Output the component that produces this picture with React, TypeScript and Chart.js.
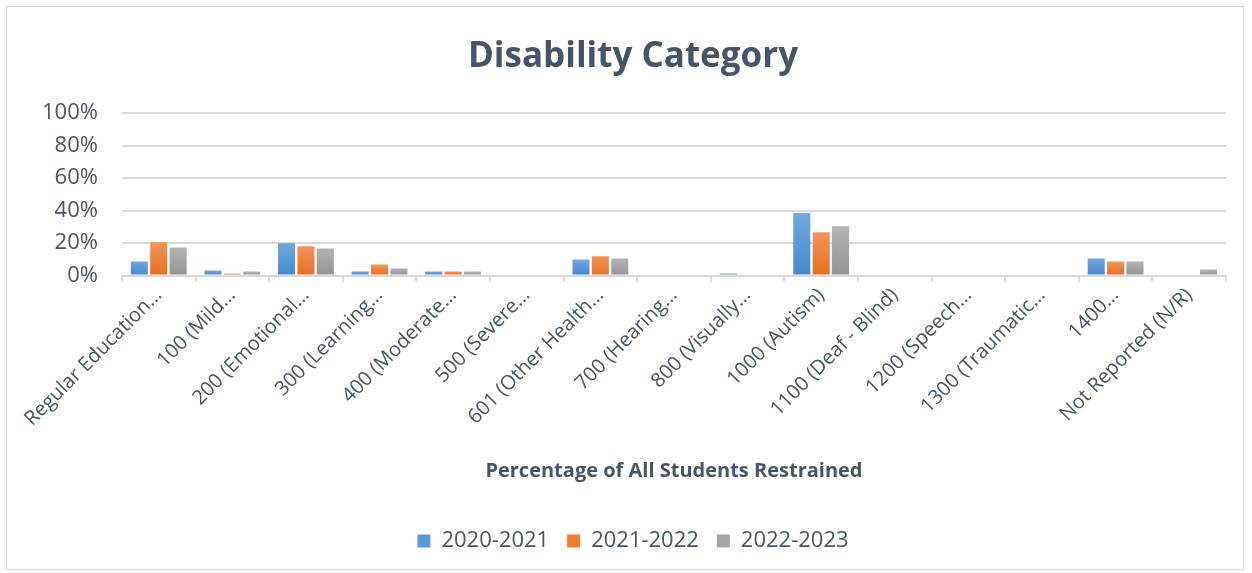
import React, { useEffect, useRef } from "react";
import { Chart, registerables } from "chart.js";

Chart.register(...registerables);

const categories = [
  "Regular Education…",
  "100 (Mild…",
  "200 (Emotional…",
  "300 (Learning…",
  "400 (Moderate…",
  "500 (Severe…",
  "601 (Other Health…",
  "700 (Hearing…",
  "800 (Visually…",
  "1000 (Autism)",
  "1100 (Deaf - Blind)",
  "1200 (Speech…",
  "1300 (Traumatic…",
  "1400…",
  "Not Reported (N/R)",
];

const seriesNames = ["2020-2021", "2021-2022", "2022-2023"];
const values2020 = [0.087, 0.031, 0.198, 0.025, 0.025, 0, 0.099, 0, 0.012, 0.384, 0, 0.006, 0, 0.105, 0];
const values2021 = [0.204, 0.012, 0.18, 0.068, 0.025, 0, 0.118, 0, 0, 0.266, 0, 0, 0, 0.087, 0];
const values2022 = [0.173, 0.025, 0.167, 0.043, 0.025, 0, 0.105, 0, 0, 0.303, 0, 0, 0, 0.087, 0.037];

const gradStops = [
  ["#6fa8de", "#4788cc"],
  ["#f2955c", "#e86e1c"],
  ["#b3b3b3", "#949494"],
];
const solidColors = ["#5b9bd5", "#ed7d31", "#a5a5a5"];
const textColor = "#44546a";
const FONT = "'Open Sans', 'Noto Sans', sans-serif";

export default function App() {
  const ref = useRef<HTMLCanvasElement | null>(null);
  useEffect(() => {
    document.body.style.margin = "0";
    const all = [values2020, values2021, values2022];
    const mkBg = (i: number) => (ctx: any) => {
      const chart = ctx.chart;
      const area = chart.chartArea;
      if (!area || ctx.type !== "data") return solidColors[i];
      const ys = chart.scales.y;
      const v = ctx.parsed ? ctx.parsed.y : 0;
      const top = ys.getPixelForValue(v);
      const bottom = ys.getPixelForValue(0);
      if (!isFinite(top) || bottom - top < 1) return gradStops[i][0];
      const g = chart.ctx.createLinearGradient(0, top, 0, bottom);
      g.addColorStop(0, gradStops[i][0]);
      g.addColorStop(1, gradStops[i][1]);
      return g;
    };
    const chart = new Chart(ref.current!, {
      type: "bar",
      data: {
        labels: categories,
        datasets: seriesNames.map((n, i) => ({
          label: n,
          data: all[i],
          yAxisID: "y",
          backgroundColor: mkBg(i),
          borderWidth: 0,
          categoryPercentage: 0.79,
          barPercentage: 0.88,
        })),
      },
      options: {
        animation: false,
        responsive: false,
        layout: { padding: { left: 18, right: 4, top: 14, bottom: 11 } },
        plugins: {
          title: {
            display: true,
            text: "Disability Category",
            color: textColor,
            font: { family: FONT, size: 35, weight: "bold" },
            padding: { top: 22, bottom: 35 },
          },
          legend: {
            position: "bottom",
            labels: {
              color: textColor,
              font: { family: FONT, size: 22 },
              boxWidth: 13,
              boxHeight: 13,
              padding: 18,
              generateLabels: () =>
                seriesNames.map((n, i) => ({
                  text: n,
                  fillStyle: solidColors[i],
                  strokeStyle: solidColors[i],
                  lineWidth: 0,
                  datasetIndex: i,
                  fontColor: textColor,
                })),
            },
          },
          tooltip: { enabled: false },
        },
        scales: {
          x: {
            afterFit: (scale: any) => {
              scale.paddingLeft = 0;
              scale.paddingRight = 0;
            },
            grid: {
              drawOnChartArea: false,
              drawTicks: true,
              tickLength: 6,
              color: "#d9d9d9",
              lineWidth: 2,
              offset: true,
            },
            border: { color: "#d9d9d9", width: 2 },
            ticks: {
              color: textColor,
              font: { family: FONT, size: 20 },
              maxRotation: 45,
              minRotation: 45,
              autoSkip: false,
              padding: 2,
            },
            title: {
              display: true,
              text: "Percentage of All Students Restrained",
              color: textColor,
              font: { family: FONT, size: 20, weight: "bold" },
              padding: { top: 26, bottom: 29 },
            },
          },
          y: {
            min: 0,
            max: 1,
            grid: { color: "#d9d9d9", lineWidth: 2, drawTicks: false },
            border: { display: false },
            ticks: {
              stepSize: 0.2,
              color: textColor,
              font: { family: FONT, size: 22 },
              padding: 24,
              callback: (v: any) => Math.round(Number(v) * 100) + "%",
            },
          },
          yRight: {
            position: "right",
            display: true,
            min: 0,
            max: 1,
            grid: { display: false, drawTicks: false },
            border: { display: false },
            ticks: { display: false },
            afterFit: (scale: any) => {
              scale.width = 22;
            },
          },
        },
      },
    });
    return () => chart.destroy();
  }, []);
  return (
    <div style={{ position: "relative", width: 1252, height: 573 }}>
      <div
        style={{
          position: "absolute",
          left: 6,
          top: 6,
          width: 1238,
          height: 564,
          border: "1px solid #d9d9d9",
          boxSizing: "border-box",
        }}
      />
      <canvas ref={ref} width={1252} height={573} style={{ position: "absolute", left: 0, top: 0 }} />
    </div>
  );
}
